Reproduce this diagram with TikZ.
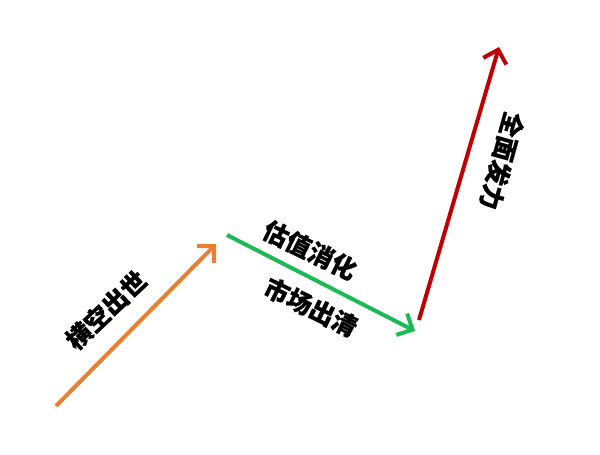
\documentclass[tikz,border=0pt]{standalone}
\usepackage{fontspec}
\newfontfamily\cjk{Noto Sans CJK SC}[BoldFeatures={FakeBold=0.6}]
\usetikzlibrary{arrows.meta}
\definecolor{arrOrange}{HTML}{ED7D31}
\definecolor{arrGreen}{HTML}{1DB954}
\definecolor{arrRed}{HTML}{C00000}
\tikzset{
  trend/.style={line width=4pt, -{Straight Barb[length=12pt,width=24pt]}},
  lbl/.style={font=\cjk\bfseries\fontsize{25}{25}\selectfont, inner sep=0pt, text=black}
}
\begin{document}
\begin{tikzpicture}[x=1pt,y=-1pt]
\useasboundingbox (0,0) rectangle (600,455);
\coordinate (a0) at (56,406);
\coordinate (a1) at (216,244);
\coordinate (b0) at (227,235);
\coordinate (b1) at (415,331);
\coordinate (c0) at (419,320);
\coordinate (c1) at (499,47);
\draw[trend, arrOrange] (a0) -- (a1);
\draw[trend, arrGreen] (b0) -- (b1);
\draw[trend, arrRed] (c0) -- (c1);
\node[lbl, rotate=43.5] (ta) at (106,310) {横空出世};
\node[lbl, rotate=-26] (tb) at (310,250) {估值消化};
\node[lbl, rotate=-26] (tc) at (311,307) {市场出清};
\node[lbl, rotate=-105.5] (td) at (502,161) {全面发力};
\end{tikzpicture}
\end{document}
